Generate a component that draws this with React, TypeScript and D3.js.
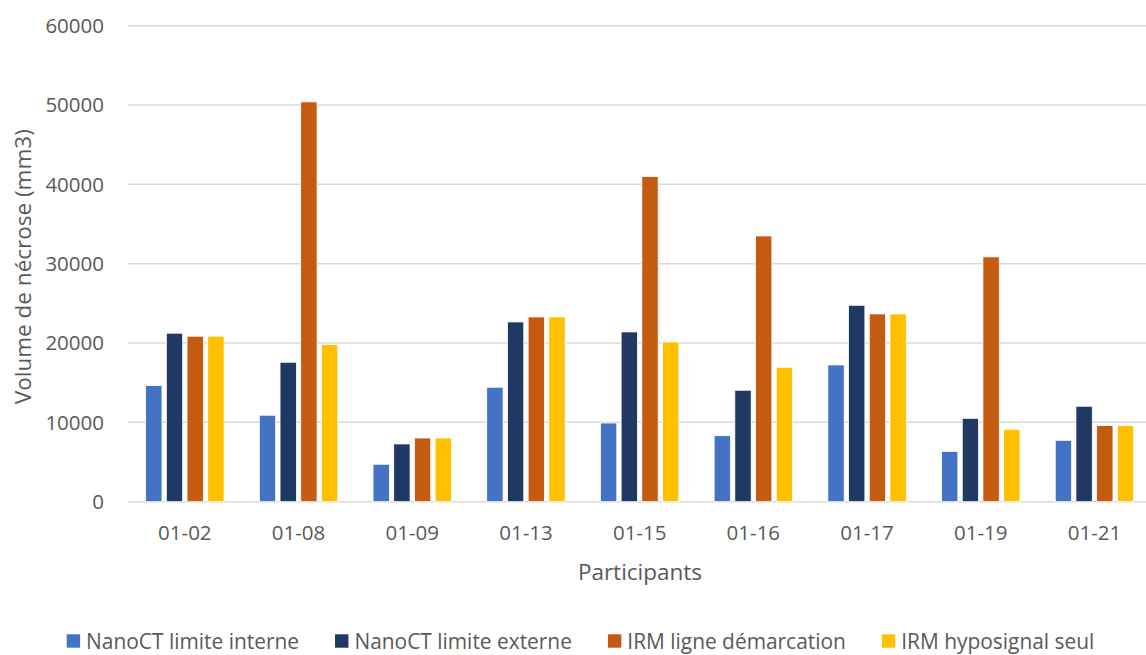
import React, { useEffect, useRef } from 'react';
import * as d3 from 'd3';

const participants = ['01-02', '01-08', '01-09', '01-13', '01-15', '01-16', '01-17', '01-19', '01-21'];
const seriesNames = ['NanoCT limite interne', 'NanoCT limite externe', 'IRM ligne démarcation', 'IRM hyposignal seul'];
const seriesColors = ['#4472C4', '#203864', '#C55A11', '#FFC000'];

const nanoInterne = [14630, 10900, 4720, 14430, 9920, 8320, 17240, 6350, 7740];
const nanoExterne = [21240, 17580, 7280, 22660, 21400, 14050, 24760, 10510, 12030];
const irmLigne = [20860, 50400, 8030, 23290, 40990, 33500, 23670, 30860, 9590];
const irmHyposignal = [20860, 19800, 8030, 23290, 20140, 16950, 23670, 9130, 9590];

const yTicks = [0, 10000, 20000, 30000, 40000, 50000, 60000];

const FONT = "'Open Sans', sans-serif";
const TEXT = '#595959';

const BarChart: React.FC = () => {
  const svgRef = useRef<SVGSVGElement>(null);

  useEffect(() => {
    if (!svgRef.current) return;
    document.body.style.margin = '0';

    const svg = d3.select(svgRef.current);
    svg.selectAll('*').remove();

    const W = 1146;
    const left = 128;
    const top = 25.7;
    const bottom = 501.7;
    const step = 113.7;

    const values = [nanoInterne, nanoExterne, irmLigne, irmHyposignal];
    const rows = participants.map((p, i) => ({ p, vals: values.map(s => s[i]) }));

    const x0 = d3.scaleBand<string>()
      .domain(participants)
      .range([left, left + step * participants.length])
      .paddingInner(0.272)
      .paddingOuter(0.136);

    const x1 = d3.scaleBand<number>()
      .domain(d3.range(seriesNames.length))
      .range([0, x0.bandwidth()])
      .paddingInner(0.21)
      .paddingOuter(0.105);

    const y = d3.scaleLinear().domain([0, 60000]).range([bottom, top]);

    // gridlines
    svg.append('g')
      .selectAll('line')
      .data(yTicks)
      .enter()
      .append('line')
      .attr('x1', left)
      .attr('x2', W)
      .attr('y1', d => y(d))
      .attr('y2', d => y(d))
      .attr('stroke', '#D9D9D9')
      .attr('stroke-width', 1.5);

    // y tick labels
    svg.append('g')
      .selectAll('text')
      .data(yTicks)
      .enter()
      .append('text')
      .attr('x', 104)
      .attr('y', d => y(d))
      .attr('dy', '0.36em')
      .attr('text-anchor', 'end')
      .style('font-family', FONT)
      .style('font-size', '20.5px')
      .style('fill', TEXT)
      .text(d => String(d));

    // bars
    const groups = svg.append('g')
      .selectAll('g')
      .data(rows)
      .enter()
      .append('g')
      .attr('transform', d => `translate(${x0(d.p)},0)`);

    groups.selectAll('rect')
      .data(d => d.vals.map((v, k) => ({ v, k })))
      .enter()
      .append('rect')
      .attr('x', d => x1(d.k) || 0)
      .attr('y', d => y(d.v))
      .attr('width', x1.bandwidth())
      .attr('height', d => bottom - y(d.v))
      .attr('fill', d => seriesColors[d.k])
      .attr('stroke', '#ffffff')
      .attr('stroke-width', 0.8);

    // x tick labels
    svg.append('g')
      .selectAll('text')
      .data(participants)
      .enter()
      .append('text')
      .attr('x', d => (x0(d) || 0) + x0.bandwidth() / 2)
      .attr('y', 539.5)
      .attr('text-anchor', 'middle')
      .style('font-family', FONT)
      .style('font-size', '20.5px')
      .style('fill', TEXT)
      .text(d => d);

    // axis titles
    svg.append('text')
      .attr('x', (left + W) / 2 + 3)
      .attr('y', 580)
      .attr('text-anchor', 'middle')
      .style('font-family', FONT)
      .style('font-size', '22.5px')
      .style('fill', TEXT)
      .text('Participants');

    svg.append('text')
      .attr('transform', `translate(31,${(top + bottom) / 2 + 3}) rotate(-90)`)
      .attr('text-anchor', 'middle')
      .style('font-family', FONT)
      .style('font-size', '22.5px')
      .style('fill', TEXT)
      .text('Volume de nécrose (mm3)');

    // legend
    const legend = svg.append('g');
    const sq = 13.4;
    const gapText = 6;
    const gapItem = 36;
    let cursor = 0;
    seriesNames.forEach((name, k) => {
      const item = legend.append('g').attr('transform', `translate(${cursor},0)`);
      item.append('rect')
        .attr('x', 0)
        .attr('y', -sq / 2)
        .attr('width', sq)
        .attr('height', sq)
        .attr('fill', seriesColors[k]);
      const t = item.append('text')
        .attr('x', sq + gapText)
        .attr('y', 0)
        .attr('dy', '0.36em')
        .style('font-family', FONT)
        .style('font-size', '20.9px')
        .style('fill', TEXT)
        .text(name);
      const len = (t.node() as SVGTextElement).getComputedTextLength();
      cursor += sq + gapText + len + gapItem;
    });
    const total = cursor - gapItem;
    legend.attr('transform', `translate(${580.5 - total / 2},641)`);
  }, []);

  return (
    <svg
      ref={svgRef}
      width={1146}
      height={655}
      viewBox="0 0 1146 655"
      style={{ display: 'block', background: '#ffffff', overflow: 'hidden' }}
    />
  );
};

export default function App() {
  return <BarChart />;
}
